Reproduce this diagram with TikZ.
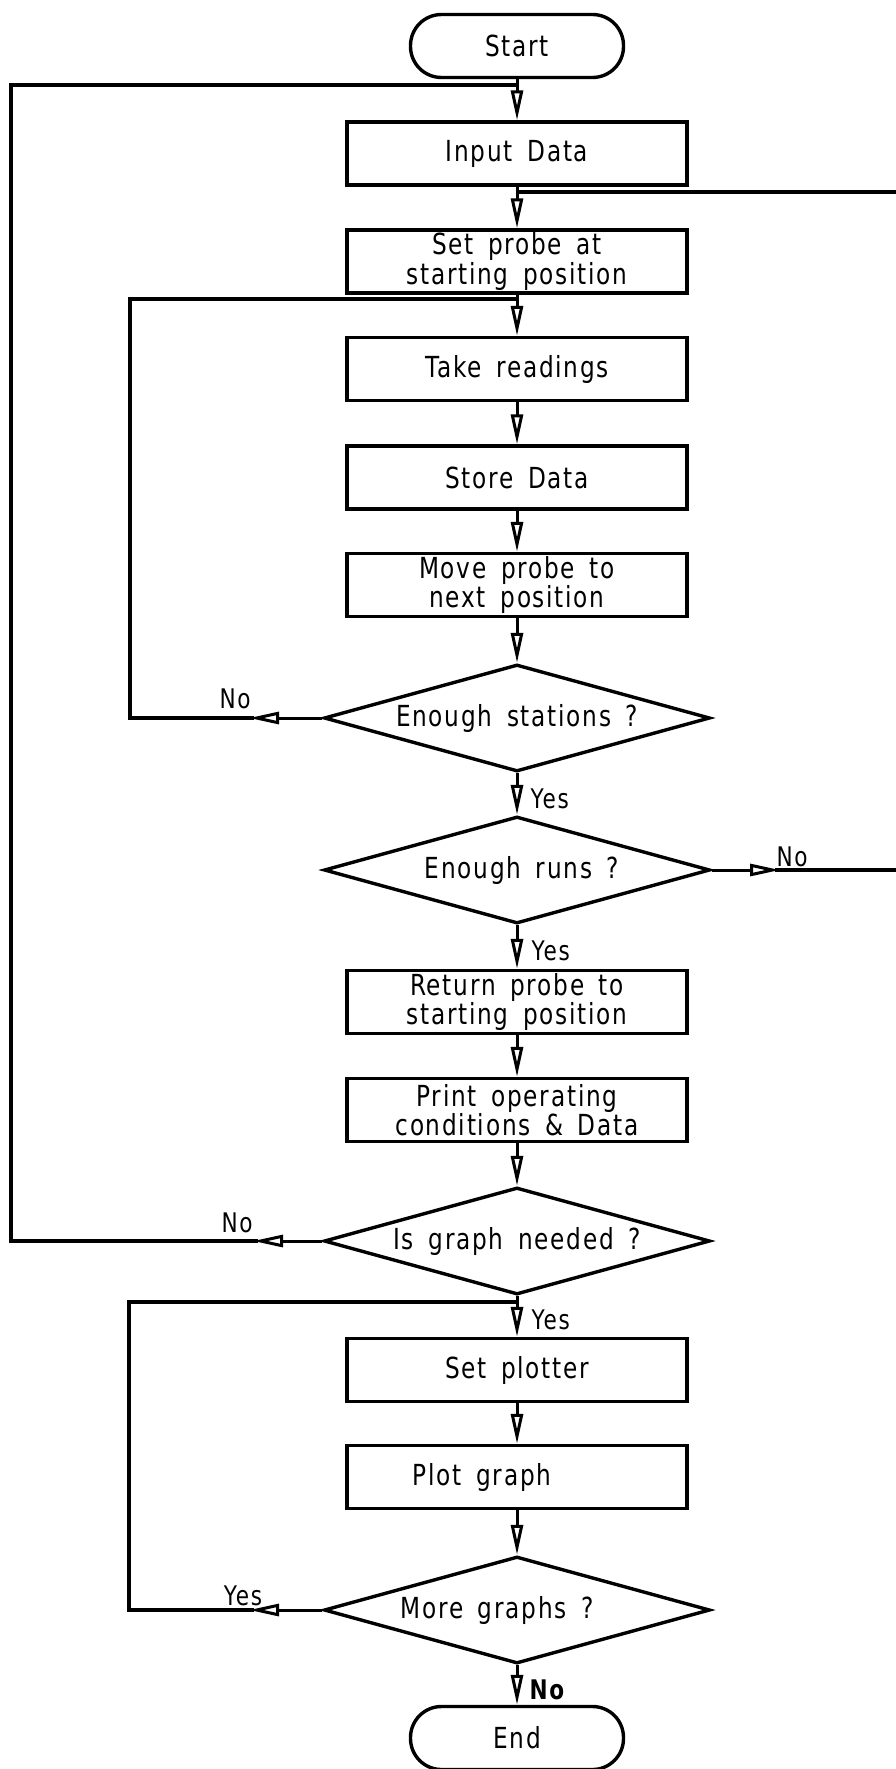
\documentclass[tikz,border=0pt]{standalone}
\usepackage{fontspec}
\setmainfont{DejaVu Sans}[FakeStretch=0.8,LetterSpace=6,WordSpace=1.6]
\usetikzlibrary{arrows.meta,shapes.geometric}
\begin{document}
\begin{tikzpicture}[x=1pt,y=-1pt,line width=3.4pt,
  txt/.style={font=\fontsize{29}{27.5}\selectfont},
  box/.style={draw,rectangle,minimum width=340pt,minimum height=63pt,inner sep=0pt,align=center,txt},
  term/.style={draw,rectangle,rounded corners=31pt,minimum width=213pt,minimum height=63pt,inner sep=0pt,txt},
  dec/.style={draw,diamond,aspect=3.57,minimum width=386pt,minimum height=107pt,inner sep=0pt,txt},
  flow/.style={-{Triangle[open,length=30pt,width=12pt]},line width=3pt},
  lbl/.style={font=\fontsize{27}{27}\selectfont,inner sep=0pt}
]
\useasboundingbox (0,0) rectangle (895,1769);

% nodes
\node[term] (start) at (517,46) {Start};
\node[box] (input) at (517,153.5) {Input Data};
\node[box] (setp) at (517,261.5) {Set probe at\\starting position};
\node[box] (take) at (517,369) {Take readings};
\node[box] (store) at (517,477.5) {Store Data};
\node[box] (move) at (517,585) {Move probe to\\next position};
\node[dec] (d1) at (517,718) {Enough stations ?};
\node[dec] (d2) at (517,870) {\hspace*{10pt}Enough runs ?};
\node[box] (ret) at (517,1002) {Return probe to\\starting position};
\node[box] (print) at (517,1110) {Print operating\\conditions \& Data};
\node[dec] (d3) at (517,1241) {Is graph needed ?};
\node[box] (plotter) at (517,1370) {Set plotter};
\node[box] (plot) at (517,1477) {Plot graph\hspace*{70pt}};
\node[dec] (d4) at (517,1610) {More graphs ?\hspace*{40pt}};
\node[term] (end) at (517,1738) {End};

% junction / route coordinates
\coordinate (j1) at (517,85);
\coordinate (o1) at (11,85);
\coordinate (o3) at (11,1241);
\coordinate (a3) at (253,1241);
\coordinate (b3) at (258,1241);

\coordinate (j2) at (517,192);
\coordinate (r1) at (898,192);
\coordinate (r2) at (898,870);
\coordinate (a2) at (780,870);
\coordinate (b2) at (775,870);

\coordinate (j3) at (517,299);
\coordinate (l3) at (130,299);
\coordinate (l1) at (130,718);
\coordinate (a1) at (249,718);
\coordinate (b1) at (254,718);

\coordinate (j4) at (517,1302);
\coordinate (l5) at (129,1302);
\coordinate (l4) at (129,1610);
\coordinate (a4) at (249,1610);
\coordinate (b4) at (254,1610);

% main flow
\draw[flow] (start) -- (input);
\draw[flow] (input) -- (setp);
\draw[flow] (setp) -- (take);
\draw[flow] (take) -- (store);
\draw[flow] (store) -- (move);
\draw[flow] (move) -- (d1);
\draw[flow] (d1) -- (d2);
\draw[flow] (d2) -- (ret);
\draw[flow] (ret) -- (print);
\draw[flow] (print) -- (d3);
\draw[flow] (d3) -- (plotter);
\draw[flow] (plotter) -- (plot);
\draw[flow] (plot) -- (d4);
\draw[flow] (d4) -- (end);

% loops
\draw[flow] (d1.west) -- (a1);
\draw (b1) -- (l1) -- (l3) -- (j3);

\draw[flow] (d2.east) -- (a2);
\draw (b2) -- (r2) -- (r1) -- (j2);

\draw[flow] (d3.west) -- (a3);
\draw (b3) -- (o3) -- (o1) -- (j1);

\draw[flow] (d4.west) -- (a4);
\draw (b4) -- (l4) -- (l5) -- (j4);

% labels
\node[lbl] (n1) at (235,699) {No};
\node[lbl,anchor=west] (y1) at (529,799) {Yes};
\node[lbl] (n2) at (792,857) {No};
\node[lbl,anchor=west] (y2) at (530,951) {Yes};
\node[lbl] (n3) at (237,1223) {No};
\node[lbl,anchor=west] (y3) at (530,1320) {Yes};
\node[lbl] (y4) at (243,1596) {Yes};
\node[lbl,anchor=west,font=\fontsize{27}{27}\selectfont\bfseries] (n4) at (528,1690) {No};
\end{tikzpicture}
\end{document}
